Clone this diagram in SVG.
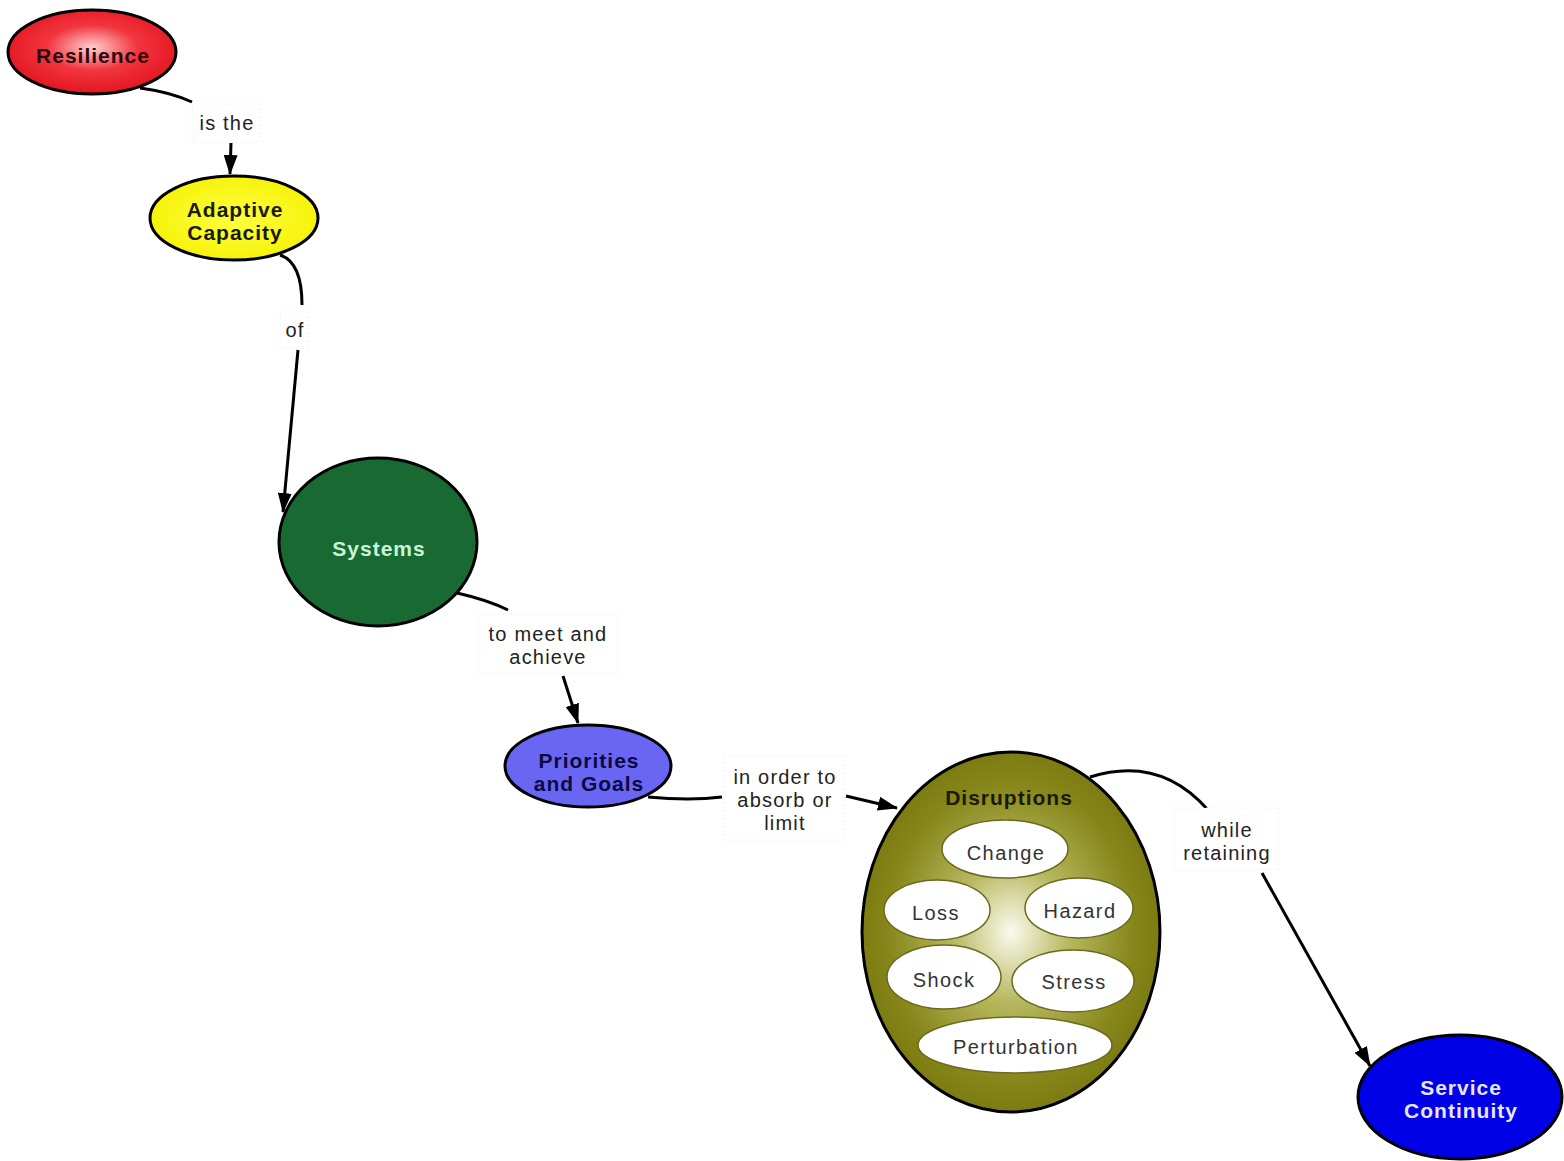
<svg xmlns="http://www.w3.org/2000/svg" width="1564" height="1161" viewBox="0 0 1564 1161">
  <defs>
    <radialGradient id="gRed" cx="0.5" cy="0.45" r="0.6">
      <stop offset="0" stop-color="#ffd0d0"/>
      <stop offset="0.45" stop-color="#f2353f"/>
      <stop offset="1" stop-color="#e0101a"/>
    </radialGradient>
    <radialGradient id="gYellow" cx="0.5" cy="0.5" r="0.6">
      <stop offset="0" stop-color="#ffff40"/>
      <stop offset="1" stop-color="#f4f000"/>
    </radialGradient>
    <radialGradient id="gOlive" cx="0.5" cy="0.5" r="0.55">
      <stop offset="0" stop-color="#fbfbf0"/>
      <stop offset="0.35" stop-color="#b8b860"/>
      <stop offset="0.75" stop-color="#86861a"/>
      <stop offset="1" stop-color="#76760e"/>
    </radialGradient>
    <marker id="arrow" viewBox="0 0 20 14" refX="19" refY="7" markerWidth="20" markerHeight="14" markerUnits="userSpaceOnUse" orient="auto">
      <path d="M0,0 L20,7 L0,14 Z" fill="#000"/>
    </marker>
  </defs>
  <style>
    .node { stroke: #000; stroke-width: 3; }
    .inner { fill: #fff; stroke: #6a6a20; stroke-width: 1.5; }
    .nlabel { font-family: "Liberation Sans", Arial, sans-serif; font-size: 21px; font-weight: bold; letter-spacing: 1px; text-anchor: middle; }
    .ilabel { font-family: "Liberation Sans", Arial, sans-serif; font-size: 20px; letter-spacing: 1.4px; fill: #333; text-anchor: middle; }
    .elabel { font-family: "Liberation Sans", Arial, sans-serif; font-size: 20px; letter-spacing: 1.2px; fill: #222; text-anchor: middle; }
    .lbox { fill: #fff; stroke: #f0f0f0; stroke-width: 1; stroke-dasharray: 2 2; }
    .link { fill: none; stroke: #000; stroke-width: 3; }
  </style>

  <rect width="1564" height="1161" fill="#fff"/>

  <g id="connectors">
    <path class="link" d="M140,88 Q170,92 192,102"/>
    <path class="link" d="M231,143 L230,174" marker-end="url(#arrow)"/>
    <path class="link" d="M280,255 Q302,262 302,305"/>
    <path class="link" d="M298,350 L283,512" marker-end="url(#arrow)"/>
    <path class="link" d="M457,593 Q488,600 508,610"/>
    <path class="link" d="M563,676 L578,723" marker-end="url(#arrow)"/>
    <path class="link" d="M648,797 Q690,801 722,797"/>
    <path class="link" d="M846,796 L897,808" marker-end="url(#arrow)"/>
    <path class="link" d="M1090,777 Q1160,755 1208,810"/>
    <path class="link" d="M1262,873 L1370,1066" marker-end="url(#arrow)"/>

    <g id="label-is-the">
      <rect class="lbox" x="192" y="104" width="68" height="38"/>
      <text class="elabel" x="227" y="130">is the</text>
    </g>
    <g id="label-of">
      <rect class="lbox" x="280" y="312" width="28" height="36"/>
      <text class="elabel" x="295" y="337">of</text>
    </g>
    <g id="label-to-meet">
      <rect class="lbox" x="478" y="614" width="140" height="60"/>
      <text class="elabel" x="548" y="641">to meet and</text>
      <text class="elabel" x="548" y="664">achieve</text>
    </g>
    <g id="label-in-order">
      <rect class="lbox" x="724" y="756" width="120" height="84"/>
      <text class="elabel" x="785" y="784">in order to</text>
      <text class="elabel" x="785" y="807">absorb or</text>
      <text class="elabel" x="785" y="830">limit</text>
    </g>
    <g id="label-while">
      <rect class="lbox" x="1174" y="808" width="104" height="62"/>
      <text class="elabel" x="1227" y="837">while</text>
      <text class="elabel" x="1227" y="860">retaining</text>
    </g>
  </g>

  <g id="node-resilience">
    <ellipse class="node" cx="92" cy="52" rx="84" ry="42" fill="url(#gRed)"/>
    <text class="nlabel" x="93" y="63" fill="#2a0a0a">Resilience</text>
  </g>

  <g id="node-adaptive-capacity">
    <ellipse class="node" cx="234" cy="218" rx="84" ry="42" fill="url(#gYellow)"/>
    <text class="nlabel" x="235" y="217" fill="#1a1a00">Adaptive</text>
    <text class="nlabel" x="235" y="240" fill="#1a1a00">Capacity</text>
  </g>

  <g id="node-systems">
    <ellipse class="node" cx="378" cy="542" rx="99" ry="84" fill="#186a32"/>
    <text class="nlabel" x="379" y="556" fill="#c8f5d8">Systems</text>
  </g>

  <g id="node-priorities">
    <ellipse class="node" cx="588" cy="766" rx="83" ry="41" fill="#6a66f4"/>
    <text class="nlabel" x="589" y="768" fill="#0a0a40">Priorities</text>
    <text class="nlabel" x="589" y="791" fill="#0a0a40">and Goals</text>
  </g>

  <g id="node-disruptions">
    <ellipse class="node" cx="1011" cy="932" rx="149" ry="180" fill="url(#gOlive)"/>
    <text class="nlabel" x="1009" y="805" fill="#1a1a00">Disruptions</text>
    <g id="node-change">
      <ellipse class="inner" cx="1005" cy="849" rx="63" ry="29"/>
      <text class="ilabel" x="1006" y="860">Change</text>
    </g>
    <g id="node-loss">
      <ellipse class="inner" cx="937" cy="910" rx="53" ry="30"/>
      <text class="ilabel" x="936" y="920">Loss</text>
    </g>
    <g id="node-hazard">
      <ellipse class="inner" cx="1079" cy="908" rx="54" ry="30"/>
      <text class="ilabel" x="1080" y="918">Hazard</text>
    </g>
    <g id="node-shock">
      <ellipse class="inner" cx="944" cy="977" rx="57" ry="32"/>
      <text class="ilabel" x="944" y="987">Shock</text>
    </g>
    <g id="node-stress">
      <ellipse class="inner" cx="1073" cy="981" rx="61" ry="31"/>
      <text class="ilabel" x="1074" y="989">Stress</text>
    </g>
    <g id="node-perturbation">
      <ellipse class="inner" cx="1015" cy="1045" rx="97" ry="28"/>
      <text class="ilabel" x="1016" y="1054">Perturbation</text>
    </g>
  </g>

  <g id="node-service-continuity">
    <ellipse class="node" cx="1460" cy="1097" rx="102" ry="62" fill="#0000e6"/>
    <text class="nlabel" x="1461" y="1095" fill="#e6e6ff">Service</text>
    <text class="nlabel" x="1461" y="1118" fill="#e6e6ff">Continuity</text>
  </g>
</svg>
